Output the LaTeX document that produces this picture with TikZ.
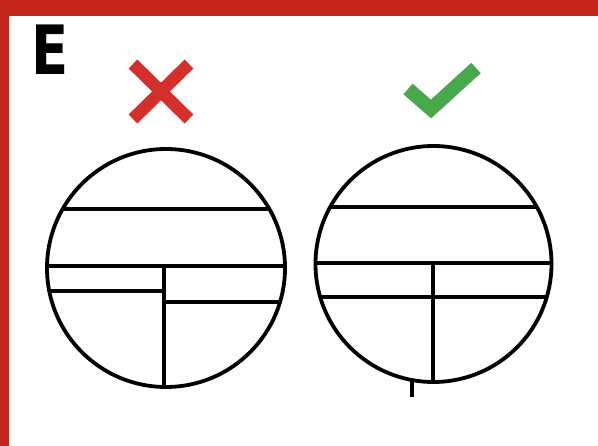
\documentclass[tikz,border=0pt]{standalone}
\usepackage{fontspec}
\setmainfont{DejaVu Sans}
\definecolor{frame}{HTML}{C4261D}
\definecolor{xred}{HTML}{D3302C}
\definecolor{okgreen}{HTML}{48A84C}
\tikzset{
  ink/.style={line width=3.8pt, black},
}
\begin{document}
\begin{tikzpicture}[x=1pt,y=-1pt]
\useasboundingbox (0,0) rectangle (598,446);
\fill[white] (0,0) rectangle (598,446);
% frame
\fill[frame] (0,0) rectangle (598,16);
\fill[frame] (0,0) rectangle (9,446);
% letter
\node[anchor=south west, inner sep=0pt, xscale=0.8, font=\fontsize{68}{68}\selectfont\bfseries] (lbl) at (31,75) {E};
% red cross
\draw[xred, line width=12.5pt] (133,64) -- (189,119);
\draw[xred, line width=12.5pt] (189,64) -- (133,119);
% green check
\draw[okgreen, line width=14pt, line join=miter] (408,89) -- (431,109) -- (476,68);
% left circle
\begin{scope}
  \clip (166,268) circle[radius=119];
  \draw[ink] (0,209) -- (598,209);
  \draw[ink] (0,266) -- (598,266);
  \draw[ink] (164,266) -- (164,400);
  \draw[ink] (0,291) -- (164,291);
  \draw[ink] (164,302) -- (300,302);
\end{scope}
\draw[ink] (166,268) circle[radius=119];
% right circle
\begin{scope}
  \clip (433.5,264) circle[radius=118];
  \draw[ink] (300,207) -- (598,207);
  \draw[ink] (300,263) -- (598,263);
  \draw[ink] (300,297) -- (598,297);
  \draw[ink] (433,263) -- (433,400);
\end{scope}
\draw[ink] (433.5,264) circle[radius=118];
\draw[line width=3.5pt] (412,379) -- (412,397);
\end{tikzpicture}
\end{document}
